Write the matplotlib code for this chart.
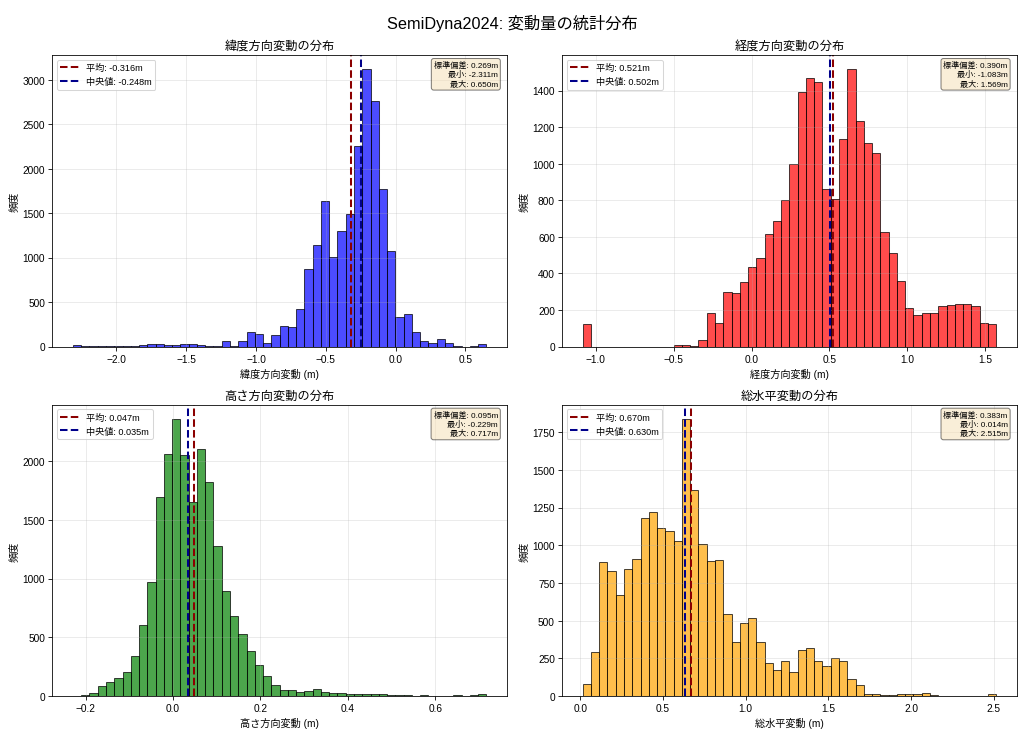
import numpy as np
import matplotlib.pyplot as plt

plt.rcParams['font.family'] = ['Liberation Sans', 'Noto Sans CJK JP', 'DejaVu Sans']

# counts per bin (50 bins between min and max)
lat_counts = [15, 5, 3, 1, 2, 3, 5, 5, 20, 25,
              30, 20, 20, 25, 30, 20, 5, 5, 64, 5,
              64, 165, 139, 41, 131, 232, 225, 427, 870, 1136,
              1639, 1005, 1294, 1489, 2250, 3120, 2756, 1774, 1072, 330,
              364, 161, 64, 37, 82, 37, 3, 0, 2, 30]
lon_counts = [122, 0, 0, 0, 0, 0, 0, 0, 0, 0,
              0, 9, 11, 5, 37, 184, 131, 297, 294, 352,
              436, 484, 615, 686, 803, 1000, 1393, 1467, 1447, 863,
              808, 1133, 1518, 1232, 1111, 1057, 624, 513, 361, 212,
              175, 184, 183, 219, 226, 235, 232, 223, 128, 122]
hgt_counts = [2, 14, 26, 91, 125, 153, 204, 346, 602, 968,
              1693, 2059, 2360, 2048, 1653, 2099, 1818, 1281, 892, 684,
              531, 383, 267, 170, 94, 54, 51, 40, 45, 62,
              40, 28, 31, 20, 20, 18, 17, 15, 12, 8,
              13, 5, 10, 6, 5, 4, 8, 3, 9, 15]
hor_counts = [84, 292, 888, 831, 672, 844, 910, 1180, 1220, 1112,
              1094, 1030, 1839, 1368, 1010, 895, 902, 544, 362, 484,
              515, 360, 221, 175, 232, 161, 307, 320, 234, 201,
              254, 232, 117, 71, 15, 14, 11, 10, 12, 14,
              14, 20, 7, 2, 1, 0, 0, 1, 2, 13]

titles = ['緯度方向変動の分布', '経度方向変動の分布', '高さ方向変動の分布', '総水平変動の分布']
xlabels = ['緯度方向変動 (m)', '経度方向変動 (m)', '高さ方向変動 (m)', '総水平変動 (m)']
colors = ['blue', 'red', 'green', 'orange']
means = [-0.316, 0.521, 0.047, 0.670]
medians = [-0.248, 0.502, 0.035, 0.630]
stds = [0.269, 0.390, 0.095, 0.383]
mins = [-2.311, -1.083, -0.229, 0.014]
maxs = [0.650, 1.569, 0.717, 2.515]
all_counts = [lat_counts, lon_counts, hgt_counts, hor_counts]

fig, axes = plt.subplots(2, 2, figsize=(14, 10.075), dpi=73.14)
fig.suptitle('SemiDyna2024: 変動量の統計分布', fontsize=16)

for i, ax in enumerate(axes.flat):
    edges = np.linspace(mins[i], maxs[i], 51)
    centers = (edges[:-1] + edges[1:]) / 2
    ax.hist(centers, bins=edges, weights=all_counts[i], color=colors[i],
            alpha=0.7, edgecolor='black')
    ax.axvline(means[i], color='darkred', linestyle='--', linewidth=2,
               label=f'平均: {means[i]:.3f}m')
    ax.axvline(medians[i], color='darkblue', linestyle='--', linewidth=2,
               label=f'中央値: {medians[i]:.3f}m')
    ax.set_title(titles[i], fontsize=12)
    ax.set_xlabel(xlabels[i], fontsize=10)
    ax.set_ylabel('頻度', fontsize=10)
    ax.grid(True, alpha=0.3)
    ax.legend(loc='upper left', fontsize=9)
    stats = f'標準偏差: {stds[i]:.3f}m\n最小: {mins[i]:.3f}m\n最大: {maxs[i]:.3f}m'
    ax.text(0.98, 0.98, stats, transform=ax.transAxes, fontsize=8,
            ha='right', va='top', multialignment='right',
            bbox=dict(boxstyle='round', facecolor='wheat', alpha=0.5))

plt.subplots_adjust(left=0.051, right=0.993, top=0.924, bottom=0.054,
                    wspace=0.121, hspace=0.2)
plt.savefig('out.png')
